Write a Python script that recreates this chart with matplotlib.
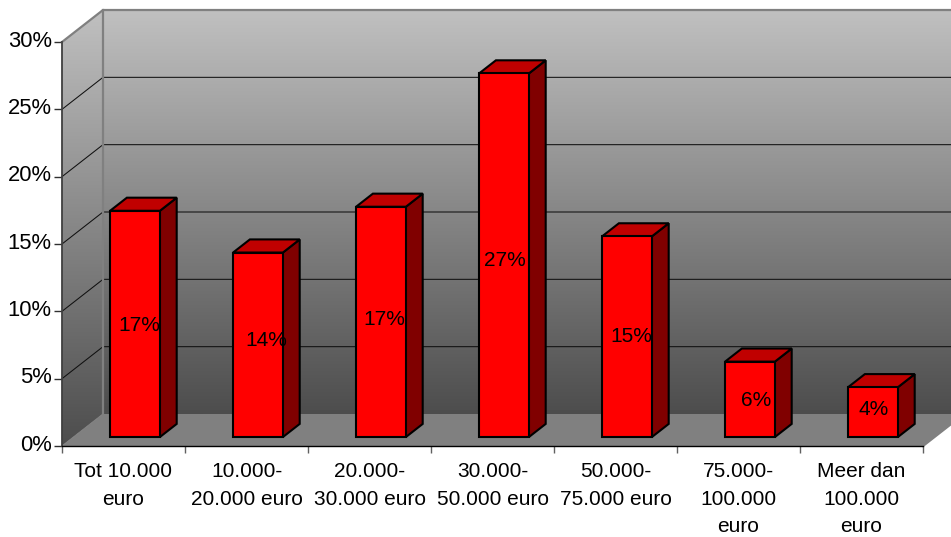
import numpy as np
import matplotlib
matplotlib.use('Agg')
import matplotlib.pyplot as plt
from matplotlib.patches import Polygon
from matplotlib.transforms import ScaledTranslation

plt.rcParams['font.family'] = ['Liberation Sans', 'DejaVu Sans']

categorias = ['Tot 10.000\neuro', '10.000-\n20.000 euro', '20.000-\n30.000 euro', '30.000-\n50.000 euro',
              '50.000-\n75.000 euro', '75.000-\n100.000\neuro', 'Meer dan\n100.000\neuro']
valores = [16.8, 13.7, 17.1, 27.0, 14.9, 5.6, 3.7]
etiquetas = ['17%', '14%', '17%', '27%', '15%', '6%', '4%']
y_ticks = [0, 5, 10, 15, 20, 25, 30]
y_labels = ['0%', '5%', '10%', '15%', '20%', '25%', '30%']

# ajuste a mano de las etiquetas sobre las barras (puntos)
ajuste_x = [3, 6, 2.3, 0.8, 3, 4.5, 0.2]
ajuste_y = [-1.4, 3, 1.4, -3.6, 0, -0.7, 2.2]

# desplazamiento de la profundidad 3D, en unidades de los ejes
dx = 1 / 3
dy = 2.376
d0, d1 = 0.28, 0.69
ancho = 0.405

fig = plt.figure(figsize=(9.51, 5.37), dpi=100)
ax = fig.add_axes([62 / 951, 91 / 537, 861 / 951, 404 / 537])

# pared de fondo y pared lateral con degradado
grad = np.linspace(0, 1, 256).reshape(-1, 1)
cmap = matplotlib.colors.LinearSegmentedColormap.from_list('pared', ['#c0c0c0', '#4d4d4d'])
fondo = ax.imshow(grad, cmap=cmap, aspect='auto', extent=(dx, 7 + dx, dy, 30 + dy), zorder=1, clip_on=False)
lateral = ax.imshow(grad, cmap=cmap, aspect='auto', extent=(0, dx, 0, 30 + dy), zorder=1)
poly_lat = Polygon([(0, 0), (dx, dy), (dx, 30 + dy), (0, 30)], transform=ax.transData, fc='none', ec='none', clip_on=False)
ax.add_patch(poly_lat)
lateral.set_clip_box(fig.bbox)
lateral.set_clip_path(poly_lat)

# suelo
ax.add_patch(Polygon([(0, 0), (7, 0), (7 + dx, dy), (dx, dy)], fc='#808080', ec='none', zorder=2, clip_on=False))

# rejilla
for t in y_ticks[1:-1]:
    ax.plot([0, dx, 7 + dx], [t, t + dy, t + dy], color='#101010', lw=0.75, zorder=3, clip_on=False)

# bordes grises
ax.plot([0, dx, 7 + dx], [30, 30 + dy, 30 + dy], color='#808080', lw=1.6, zorder=3, clip_on=False)
ax.plot([dx, dx], [dy, 30 + dy], color='#808080', lw=1.6, zorder=3, clip_on=False)
ax.plot([0, dx], [0, dy], color='#808080', lw=0.8, zorder=3)
ax.plot([7, 7 + dx], [0, dy], color='#808080', lw=1.6, zorder=3, clip_on=False)

# barras
posiciones = np.arange(7) + 0.5 + d0 * dx
base = d0 * dy
ax.bar(posiciones, valores, width=ancho, bottom=base, color='#ff0000', edgecolor='black', linewidth=1.5, zorder=5)
prof = (d1 - d0)
for x, v, e, ox, oy in zip(posiciones, valores, etiquetas, ajuste_x, ajuste_y):
    x1 = x + ancho / 2
    x0 = x - ancho / 2
    arriba = base + v
    ax.add_patch(Polygon([(x1, base), (x1 + prof * dx, base + prof * dy), (x1 + prof * dx, arriba + prof * dy), (x1, arriba)],
                         fc='#800000', ec='black', lw=1.5, zorder=4))
    ax.add_patch(Polygon([(x0, arriba), (x1, arriba), (x1 + prof * dx, arriba + prof * dy), (x0 + prof * dx, arriba + prof * dy)],
                         fc='#c00000', ec='black', lw=1.5, zorder=4))
    ax.annotate(e, (x, base + v / 2), xytext=(ox, oy), textcoords='offset points', ha='center', va='center',
                fontsize=15, color='black', zorder=6)

ax.set_xlim(0, 7)
ax.set_ylim(0, 30)
for lado in ['top', 'right']:
    ax.spines[lado].set_visible(False)
ax.spines['left'].set_color('#404040')
ax.spines['left'].set_linewidth(1.3)
ax.spines['bottom'].set_linewidth(1.0)
ax.spines['left'].set_zorder(4)
ax.spines['bottom'].set_zorder(4)

ax.set_yticks(y_ticks)
ax.set_yticklabels(y_labels, fontsize=15.8)
ax.tick_params(axis='y', length=5.8, width=1, color='#303030', pad=1.5)
for lbl in ax.get_yticklabels():
    lbl.set_transform(lbl.get_transform() + ScaledTranslation(0, 2.5 / 72, fig.dpi_scale_trans))
ax.set_xticks(np.arange(8))
ax.set_xticklabels([])
ax.tick_params(axis='x', which='major', length=5, width=1, color='#606060')
ax.set_xticks(np.arange(7) + 0.5, minor=True)
ax.set_xticklabels(categorias, minor=True, fontsize=15, linespacing=1.57)
ax.tick_params(axis='x', which='minor', length=0, pad=11.5)

fig.savefig('out.png', dpi=100)
